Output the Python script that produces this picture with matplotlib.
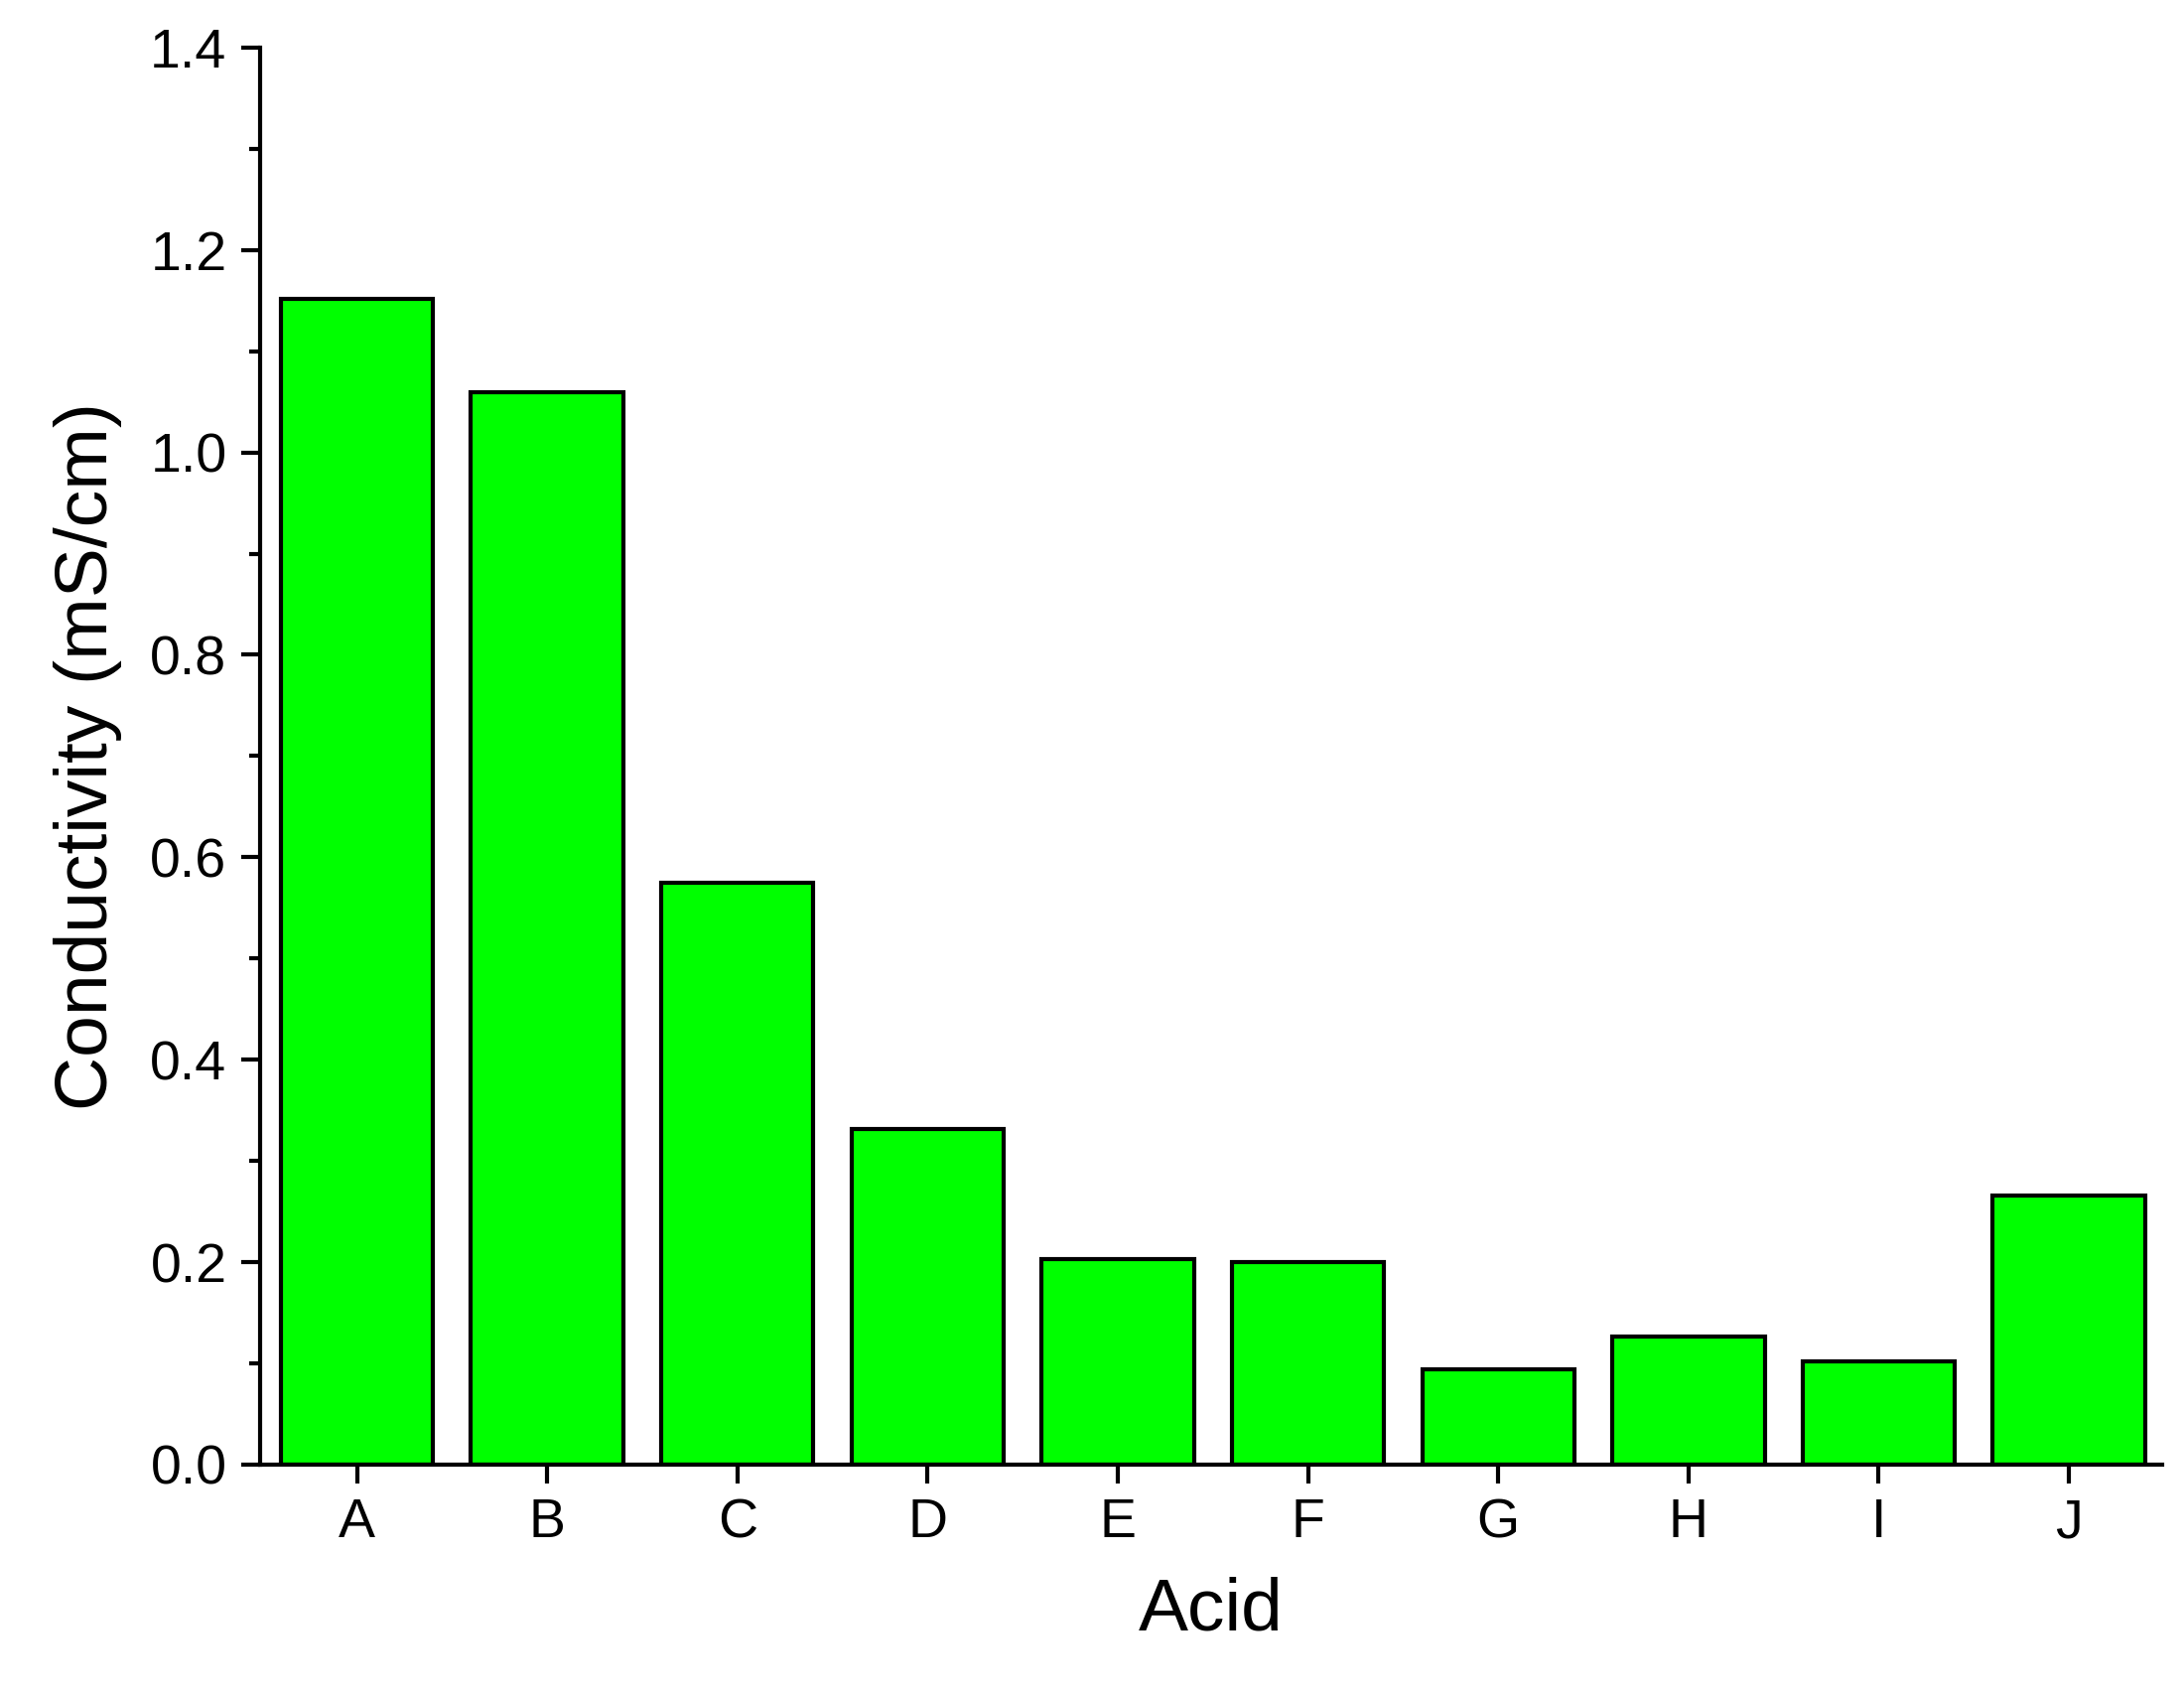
import matplotlib
matplotlib.use("Agg")
import matplotlib.pyplot as plt
from matplotlib.ticker import MultipleLocator

acids = ["A", "B", "C", "D", "E", "F", "G", "H", "I", "J"]
conductivity = [1.152, 1.059, 0.575, 0.331, 0.203, 0.200, 0.094, 0.126, 0.102, 0.266]

plt.rcParams['font.family'] = ['Liberation Sans', 'DejaVu Sans']

fig = plt.figure(figsize=(22, 17.09), dpi=100)
ax = fig.add_axes([0.119, 0.137, 0.871, 0.835])

x = list(range(len(acids)))
ax.bar(x, conductivity, width=0.8, color="#00ff00", edgecolor="black", linewidth=3)

ax.set_xlim(-0.51, 9.49)
ax.set_ylim(0, 1.4)
ax.set_xticks(x)
ax.set_xticklabels(acids)
ax.yaxis.set_major_locator(MultipleLocator(0.2))
ax.yaxis.set_minor_locator(MultipleLocator(0.1))
ax.yaxis.set_major_formatter(plt.FormatStrFormatter("%.1f"))

for s in ["top", "right"]:
    ax.spines[s].set_visible(False)
for s in ["left", "bottom"]:
    ax.spines[s].set_linewidth(3)

ax.tick_params(axis="both", which="major", direction="out", length=14, width=3, labelsize=40, pad=10)
ax.tick_params(axis="y", which="minor", direction="out", length=8, width=3)

ax.set_xlabel("Acid", fontsize=54, labelpad=20)
ax.set_ylabel("Conductivity (mS/cm)", fontsize=54, labelpad=20)

fig.savefig("out.png", dpi=100)
